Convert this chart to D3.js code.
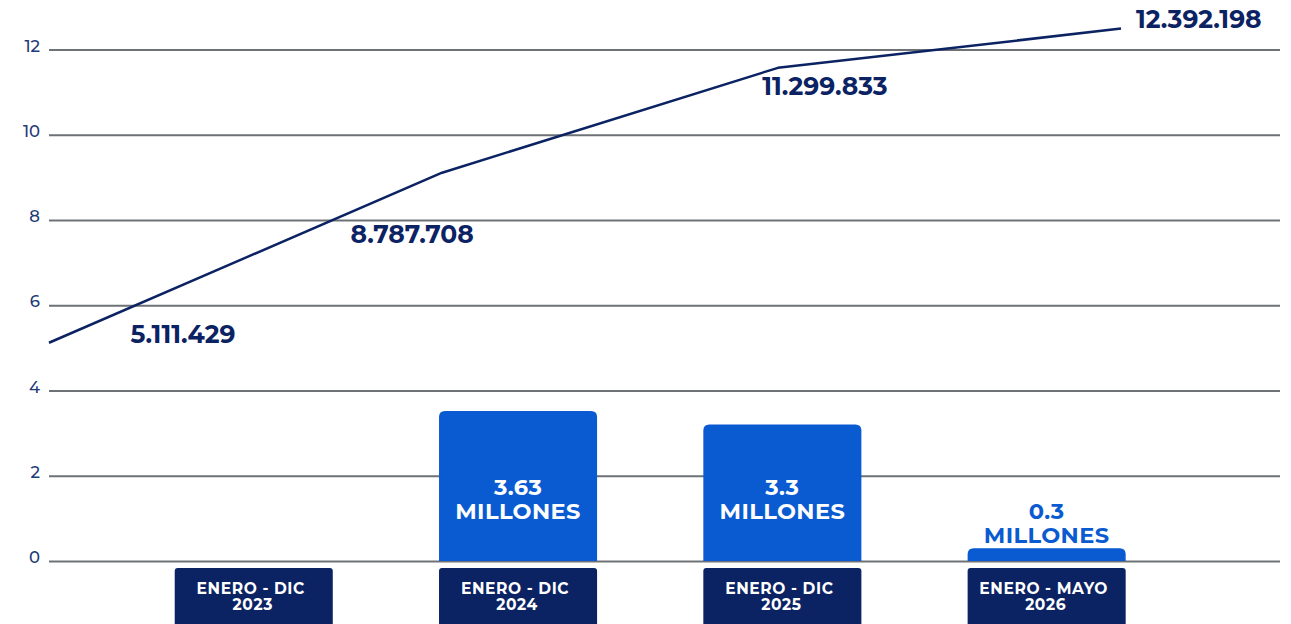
<!DOCTYPE html>
<html>
<head>
<meta charset="utf-8">
<script src="https://cdn.jsdelivr.net/npm/d3@7"></script>
<style>
  html, body { margin: 0; padding: 0; background: #ffffff; }
  svg { display: block; }
  text { font-family: Montserrat, Inter, "Open Sans", sans-serif; }
</style>
</head>
<body>
<svg id="chart" width="1291" height="624"></svg>
<script>
// ---- data ----
const categories = ["ENERO - DIC|2023", "ENERO - DIC|2024", "ENERO - DIC|2025", "ENERO - MAYO|2026"];
const barValues = [null, 3.52, 3.20, 0.30];           // millions
const barLabels = [null, "3.63", "3.3", "0.3"];
const lineSteps = [0, 1.10, 2.04, 3];                  // period position along the line
const lineValues = [5.12, 9.11, 11.57, 12.49];         // millions (cumulative)
const lineLabels = ["5.111.429", "8.787.708", "11.299.833", "12.392.198"];
const yTicks = [0, 2, 4, 6, 8, 10, 12];

// ---- style ----
const NAVY = "#0b2263";
const BLUE = "#0a5bd1";
const GRID = "#6e7276";
const TICK = "#1f3a78";

const svg = d3.select("#chart");
const left = 49, right = 1280;

const y = d3.scaleLinear().domain([0, 12]).range([561, 49.5]);
const x = d3.scaleBand().domain(categories).range([121.6, 1178.8]).paddingInner(0.402).paddingOuter(0.201);
const xl = d3.scaleLinear().domain([0, 3]).range([49, 1121]);

// grid + y ticks
const yAxis = d3.axisLeft(y).tickValues(yTicks).tickSize(-(right - left)).tickPadding(9).tickFormat(d3.format("d"));
const ga = svg.append("g").attr("transform", `translate(${left},0)`).call(yAxis);
ga.select(".domain").remove();
ga.selectAll(".tick line").attr("stroke", GRID).attr("stroke-width", 2);
ga.selectAll(".tick text").attr("fill", TICK).attr("font-size", 16.5).attr("font-weight", 500)
  .attr("dy", "0.1em").style("font-family", "Montserrat, Inter, sans-serif");

// line
const line = d3.line().x((d, i) => xl(lineSteps[i])).y(d => y(d));
svg.append("path").datum(lineValues).attr("d", line)
  .attr("fill", "none").attr("stroke", NAVY).attr("stroke-width", 2.5).attr("stroke-linejoin", "round");

// bars with rounded top corners
const r = 6;
function barPath(x0, w, yTop, yBot) {
  const rr = Math.min(r, (yBot - yTop));
  return `M${x0},${yBot}V${yTop + rr}Q${x0},${yTop} ${x0 + rr},${yTop}H${x0 + w - rr}Q${x0 + w},${yTop} ${x0 + w},${yTop + rr}V${yBot}Z`;
}
categories.forEach((c, i) => {
  const v = barValues[i];
  if (v == null) return;
  svg.append("path").attr("d", barPath(x(c), x.bandwidth(), y(v), y(0))).attr("fill", BLUE);
});

// bar labels
categories.forEach((c, i) => {
  const v = barValues[i];
  if (v == null) return;
  const cx = x(c) + x.bandwidth() / 2;
  const inside = (y(0) - y(v)) > 60;
  const base = inside ? y(1.55) : y(v) - 29;
  const t = svg.append("text").attr("x", cx).attr("text-anchor", "middle")
    .attr("font-weight", 700).attr("font-size", 22.5).attr("letter-spacing", 0.4)
    .attr("fill", inside ? "#ffffff" : BLUE);
  t.append("tspan").attr("x", cx).attr("y", base).text(barLabels[i]);
  t.append("tspan").attr("x", cx).attr("y", base + 24).text("MILLONES");
});

// category boxes
categories.forEach(c => {
  const x0 = x(c), w = x.bandwidth();
  svg.append("rect").attr("x", x0).attr("y", 568).attr("width", w).attr("height", 70).attr("rx", 3).attr("fill", NAVY);
  const parts = c.split("|");
  const cx = x0 + w / 2 - 3;
  const t = svg.append("text").attr("text-anchor", "middle").attr("fill", "#ffffff")
    .attr("font-weight", 700).attr("font-size", 15.5).attr("letter-spacing", 0.6);
  t.append("tspan").attr("x", cx).attr("y", 594).text(parts[0]);
  t.append("tspan").attr("x", cx + 2).attr("y", 610).text(parts[1]);
});

// line value labels (offsets relative to each point)
const labOff = [[134, 0, "middle"], [-30, 70, "middle"], [47, 27, "middle"], [15, -1, "start"]];
lineValues.forEach((v, i) => {
  svg.append("text").attr("x", xl(lineSteps[i]) + labOff[i][0]).attr("y", y(v) + labOff[i][1])
    .attr("text-anchor", labOff[i][2]).attr("fill", NAVY).attr("font-weight", 700).attr("font-size", 25)
    .text(lineLabels[i]);
});
</script>
</body>
</html>
